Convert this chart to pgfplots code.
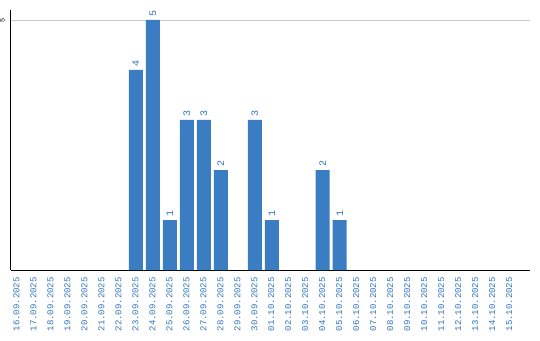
\documentclass[border=0pt]{standalone}
\usepackage{pgfplots}
\pgfplotsset{compat=1.18}
\usepackage{fontspec}
\setmainfont{Liberation Sans}
\setmonofont{Liberation Mono}
\definecolor{barblue}{RGB}{59,125,195}
\definecolor{labblue}{RGB}{50,118,192}
\begin{document}
\begin{tikzpicture}
\useasboundingbox (-11pt,-70pt) rectangle (529pt,270pt);
\begin{axis}[
  at={(0pt,0pt)}, anchor=south west,
  scale only axis, width=519pt, height=260pt,
  xmin=-0.35, xmax=30.2, ymin=0, ymax=5.2,
  axis x line*=bottom, axis y line*=left,
  axis line style={black, line width=1pt, -},
  /pgf/number format/assume math mode=true,
  xtick={0,...,29},
  xticklabels={16.09.2025,17.09.2025,18.09.2025,19.09.2025,20.09.2025,21.09.2025,22.09.2025,23.09.2025,24.09.2025,25.09.2025,26.09.2025,27.09.2025,28.09.2025,29.09.2025,30.09.2025,01.10.2025,02.10.2025,03.10.2025,04.10.2025,05.10.2025,06.10.2025,07.10.2025,08.10.2025,09.10.2025,10.10.2025,11.10.2025,12.10.2025,13.10.2025,14.10.2025,15.10.2025},
  x tick label style={xshift=-0.5pt, yshift=-7pt, rotate=90, anchor=east, inner sep=0pt, font=\ttfamily\fontsize{9}{9}\selectfont, text=labblue},
  ytick={5},
  y tick label style={xshift=-6pt, rotate=90, anchor=south, inner sep=0pt, font=\ttfamily\fontsize{7}{7}\selectfont, text=black},
  ymajorgrids, grid style={line width=0.8pt, black!22},
  major tick length=0pt,
  clip=false,
  ybar, bar width=14pt,
  nodes near coords,
  nodes near coords style={yshift=3pt, rotate=90, anchor=west, inner sep=0pt, font=\ttfamily\fontsize{10}{10}\selectfont, text=labblue},
]
\addplot[fill=barblue, draw=none] coordinates {(7,4) (8,5) (9,1) (10,3) (11,3) (12,2) (14,3) (15,1) (18,2) (19,1)};
\end{axis}
\end{tikzpicture}
\end{document}
